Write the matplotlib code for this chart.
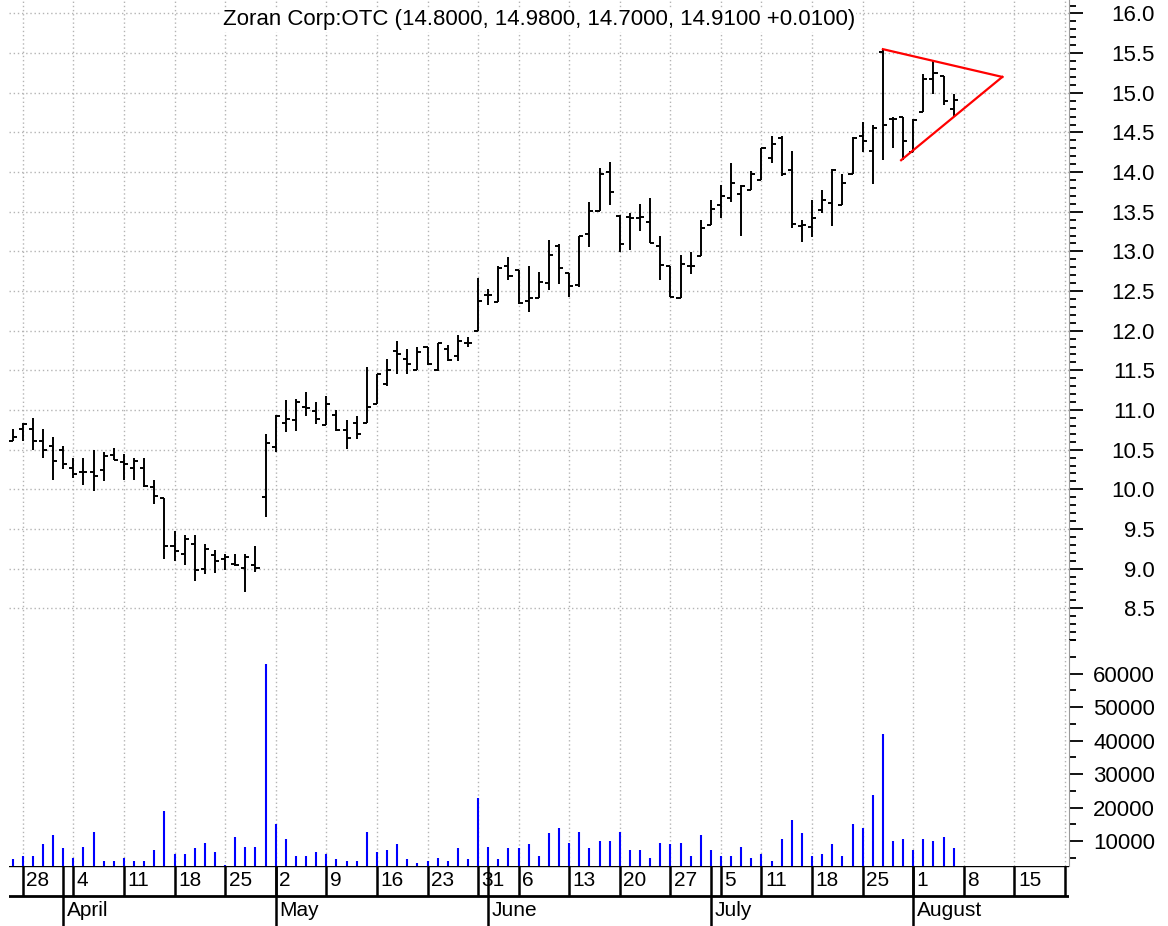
import numpy as np
import pandas as pd
import matplotlib
matplotlib.use("Agg")
import matplotlib.pyplot as plt
from matplotlib.ticker import MultipleLocator

plt.rcParams['font.family'] = ['Liberation Sans', 'DejaVu Sans']

# trading calendar (holidays skipped on the chart's date axis)
holidays = ['2005-03-25', '2005-05-30', '2005-07-04']
days = pd.bdate_range('2005-03-24', '2005-08-26')
days = days[~days.isin(pd.to_datetime(holidays))]

title = "Zoran Corp:OTC (14.8000, 14.9800, 14.7000, 14.9100 +0.0100)"

opens = [10.61, 10.76, 10.76, 10.61, 10.54, 10.50, 10.27, 10.22, 10.22, 10.24,
         10.43, 10.35, 10.27, 10.27, 10.03, 9.89, 9.29, 9.19, 9.31, 8.99,
         9.17, 9.12, 9.06, 9.01, 9.05, 9.90, 10.53, 10.84, 10.87, 11.04,
         10.99, 10.81, 10.94, 10.75, 10.83, 10.83, 11.08, 11.33, 11.75, 11.64,
         11.50, 11.80, 11.50, 11.77, 11.68, 11.84, 11.99, 12.45, 12.36, 12.81,
         12.76, 12.37, 12.41, 12.60, 13.07, 12.73, 12.58, 13.22, 13.51, 14.00,
         13.45, 13.43, 13.42, 13.37, 13.07, 12.81, 12.41, 12.81, 12.94, 13.33,
         13.59, 13.67, 13.72, 13.77, 13.90, 14.18, 14.43, 14.03, 13.32, 13.31,
         13.52, 13.61, 13.58, 13.98, 14.46, 14.26, 15.52, 14.67, 14.70, 14.25,
         14.76, 15.17, 15.21, 14.80]
highs = [10.76, 10.83, 10.90, 10.76, 10.66, 10.54, 10.39, 10.40, 10.50, 10.47,
         10.52, 10.45, 10.40, 10.40, 10.12, 9.89, 9.48, 9.43, 9.43, 9.31,
         9.24, 9.19, 9.19, 9.19, 9.29, 10.70, 10.94, 11.12, 11.14, 11.23,
         11.10, 11.18, 11.00, 10.87, 10.93, 11.54, 11.45, 11.64, 11.87, 11.77,
         11.79, 11.80, 11.85, 11.82, 11.94, 11.92, 12.67, 12.52, 12.81, 12.93,
         12.76, 12.81, 12.74, 13.14, 13.09, 12.73, 13.20, 13.62, 14.05, 14.13,
         13.46, 13.49, 13.60, 13.67, 13.20, 12.81, 12.96, 12.99, 13.40, 13.65,
         13.84, 14.12, 13.84, 14.02, 14.31, 14.46, 14.46, 14.26, 13.39, 13.65,
         13.77, 14.04, 13.98, 14.44, 14.63, 14.60, 15.55, 14.70, 14.70, 14.67,
         15.24, 15.41, 15.21, 14.98]
lows = [10.61, 10.61, 10.50, 10.40, 10.12, 10.25, 10.14, 10.05, 9.98, 10.10,
        10.37, 10.12, 10.12, 10.03, 9.82, 9.12, 9.09, 9.05, 8.84, 8.93,
        8.95, 8.98, 9.03, 8.70, 8.96, 9.65, 10.47, 10.72, 10.74, 10.93,
        10.82, 10.81, 10.74, 10.51, 10.63, 10.83, 11.08, 11.30, 11.45, 11.45,
        11.50, 11.57, 11.49, 11.62, 11.62, 11.79, 11.99, 12.33, 12.36, 12.64,
        12.34, 12.24, 12.41, 12.51, 12.59, 12.43, 12.55, 13.06, 13.51, 13.58,
        12.99, 13.02, 13.26, 13.10, 12.64, 12.43, 12.41, 12.71, 12.94, 13.33,
        13.42, 13.62, 13.20, 13.77, 13.90, 14.11, 13.95, 13.29, 13.12, 13.18,
        13.49, 13.32, 13.58, 13.98, 14.25, 13.85, 14.15, 14.30, 14.15, 14.25,
        14.76, 14.99, 14.85, 14.70]
closes = [10.66, 10.82, 10.61, 10.50, 10.36, 10.32, 10.19, 10.22, 10.17, 10.42,
          10.37, 10.32, 10.36, 10.04, 9.91, 9.29, 9.22, 9.37, 8.98, 9.25,
          9.10, 9.15, 9.05, 9.15, 9.01, 10.58, 10.93, 10.89, 11.10, 11.03,
          10.89, 11.08, 10.75, 10.65, 10.70, 11.04, 11.45, 11.51, 11.70, 11.58,
          11.73, 11.58, 11.84, 11.63, 11.87, 11.84, 12.38, 12.45, 12.79, 12.69,
          12.35, 12.41, 12.62, 12.95, 12.79, 12.57, 13.19, 13.51, 13.97, 13.75,
          13.09, 13.42, 13.43, 13.11, 12.83, 12.43, 12.84, 12.81, 13.30, 13.54,
          13.70, 13.86, 13.83, 13.98, 14.30, 14.35, 13.98, 13.35, 13.33, 13.42,
          13.65, 14.03, 13.86, 14.43, 14.39, 14.55, 14.60, 14.67, 14.39, 14.66,
          15.17, 15.25, 14.90, 14.91]
volumes = [4530, 5620, 5620, 9000, 11790, 7810, 5025, 8310, 12790, 4030,
           4030, 5025, 4030, 4030, 7310, 18955, 6120, 6120, 7810, 9500,
           6715, 2840, 11095, 8310, 8310, 63030, 15075, 10600, 5620, 5620,
           6715, 6120, 4530, 4030, 4030, 12790, 6715, 7310, 9000, 4530,
           3430, 4030, 5025, 4030, 7810, 4530, 22740, 8310, 4530, 7810,
           7810, 9000, 5620, 12290, 13880, 9500, 12790, 7810, 10000, 10000,
           12790, 7310, 7310, 5025, 9500, 9100, 9500, 5620, 11690, 7310,
           5620, 5620, 8310, 5025, 6120, 4030, 10600, 16170, 12290, 5620,
           6120, 9000, 5620, 15075, 13980, 23830, 41840, 10000, 10600, 7310,
           10600, 10000, 11095, 7810]

# triangle drawn on the chart (bar index, price)
upper_x, upper_y = [86, 97.8], [15.55, 15.20]
lower_x, lower_y = [87.8, 97.8], [14.15, 15.20]

W, H = 1168, 926
fig = plt.figure(figsize=(W / 100, H / 100), dpi=100)


def px_axes(x0, y0, x1, y1):
    return fig.add_axes([x0 / W, 1 - y1 / H, (x1 - x0) / W, (y1 - y0) / H])


ax_p = px_axes(9, 0, 1069, 640)
ax_v = px_axes(9, 640, 1069, 866)
ax_d = px_axes(9, 866, 1069, 926)

x = np.arange(len(opens))
xlim = (-0.356, 104.39)

wk = days.isocalendar().week.values
week_idx = [i for i in range(1, len(days)) if wk[i] != wk[i - 1]]
month_idx = [i for i in range(1, len(days)) if days[i].month != days[i - 1].month]

grid_kw = dict(color='#b4b4b4', linestyle=(0, (1, 2)), linewidth=1)
tick_kw = dict(direction='out', color='black', width=1.3, labelsize=16,
               pad=52, right=True, left=False, labelright=True, labelleft=False)

# price bars
ax_p.vlines(x, lows, highs, color='black', lw=1.4)
ax_p.hlines(opens, x - 0.4, x, color='black', lw=1.4)
ax_p.hlines(closes, x, x + 0.4, color='black', lw=1.4)
ax_p.plot(upper_x, upper_y, color='#ff0000', lw=1.6)
ax_p.plot(lower_x, lower_y, color='#ff0000', lw=1.6)
ax_p.set_xlim(xlim)
ax_p.set_ylim(8.10, 16.17)
ax_p.set_yticks(np.arange(8.5, 16.01, 0.5))
ax_p.yaxis.set_minor_locator(MultipleLocator(0.1))
ax_p.yaxis.set_major_formatter(lambda v, pos: f"{v:.1f}")

# volume bars
ax_v.vlines(x, 0, volumes, color='#0000ff', lw=1.5)
ax_v.set_xlim(xlim)
ax_v.set_ylim(2540, 70050)
ax_v.set_yticks(np.arange(10000, 60001, 10000))
ax_v.yaxis.set_minor_locator(MultipleLocator(5000))
ax_v.yaxis.set_major_formatter(lambda v, pos: f"{v:.0f}")

for ax in (ax_p, ax_v):
    ax.set_xticks(week_idx)
    ax.tick_params(axis='x', length=0, labelbottom=False)
    ax.grid(axis='x', **grid_kw)
    ax.tick_params(axis='y', which='major', length=10, **tick_kw)
    ax.tick_params(axis='y', which='minor', length=5, direction='out',
                   width=1.3, right=True, left=False)
    for lab in ax.get_yticklabels():
        lab.set_horizontalalignment('right')
    for side in ('left', 'top', 'bottom'):
        ax.spines[side].set_visible(False)
    ax.spines['right'].set_color('#9a9a9a')
    ax.set_axisbelow(True)
ax_p.grid(axis='y', which='major', **grid_kw)

fig.text(539 / W, 1 - 20 / H, title, ha='center', va='center', fontsize=16,
         bbox=dict(facecolor='white', edgecolor='none', pad=1))

# date axis: week row and month row
ax_d.set_xlim(xlim)
ax_d.set_ylim(0, 1)
ax_d.axis('off')
ax_d.axhline(1, color='black', lw=1)
ax_d.axhline(0.5, color='black', lw=2)
for i in week_idx:
    ax_d.vlines(i, 0.5, 1, color='black', lw=1.8)
    ax_d.text(i + 0.35, 0.76, str(days[i].day), ha='left', va='center',
              fontsize=15, clip_on=True)
for i in month_idx:
    ax_d.vlines(i, 0, 1, color='black', lw=1.8)
    ax_d.text(i + 0.35, 0.25, days[i].strftime('%B'), ha='left', va='center',
              fontsize=15, clip_on=True)

fig.savefig('out.png', dpi=100)
